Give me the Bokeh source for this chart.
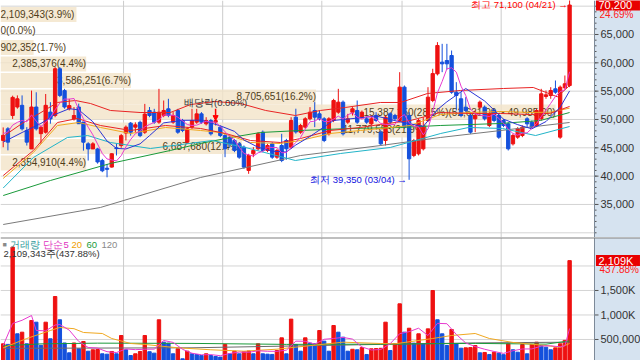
from bokeh.plotting import figure
from bokeh.layouts import column
from bokeh.models import (Range1d, Label, Arrow, NormalHead, Span, BoxAnnotation, ColumnDataSource)
from bokeh.embed import file_html
from bokeh.resources import INLINE
from bokeh.core.properties import value

# ---------------- data ----------------
opens = [46300, 48350, 50700, 52200, 52500, 48050, 44800, 52200, 47500, 47750,
         51300, 50700, 58950, 55100, 51900, 50100, 52200, 49550, 45700, 44800,
         44800, 42750, 41400, 41600, 45000, 45400, 47600, 49350, 48650, 49500,
         47750, 51590, 51290, 49530, 50700, 51880, 49530, 51590, 49820, 45990,
         48650, 49530, 50990, 49230, 49820, 49530, 48650, 47170, 46880, 46290,
         45700, 45110, 41000, 43940, 44820, 47760, 44530, 45700, 43350, 45410,
         46290, 45110, 50400, 47760, 48650, 50120, 51590, 51000, 50120, 47470,
         49820, 51290, 53060, 49530, 51290, 51590, 50410, 50120, 49230, 50700,
         47760, 46290, 51000, 50700, 49820, 55710, 50700, 43650, 43940, 44820,
         49820, 53350, 58060, 60120, 60410, 61290, 54820, 53650, 52170, 50700,
         50120, 52170, 52170, 48940, 51590, 50700, 49820, 49230, 45700, 46880,
         47170, 50120, 49530, 48940, 50120, 54060, 54230, 55410, 46880, 55590,
         56000]
highs = [48600, 48650, 54200, 54250, 54250, 48650, 55100, 54800, 48950, 54500,
         53050, 59250, 59250, 55400, 53650, 52200, 52800, 49550, 45990, 46000,
         45000, 43050, 42150, 44050, 45700, 47450, 48950, 49550, 49500, 49800,
         52750, 52200, 51880, 55410, 53350, 53650, 51300, 51880, 50100, 48650,
         51880, 51880, 51300, 50400, 50100, 50100, 48940, 47470, 47170, 46580,
         45990, 45410, 43940, 45110, 47760, 48060, 45700, 45990, 44820, 47470,
         46580, 50400, 51900, 49230, 50400, 52180, 53060, 51590, 50410, 50410,
         53650, 55410, 53350, 51000, 52180, 53350, 51590, 50410, 50700, 51290,
         48060, 50700, 51290, 51000, 58350, 56000, 51290, 46580, 50120, 50410,
         55700, 58950, 63650, 63350, 63350, 62170, 56590, 54820, 53940, 51000,
         51590, 53350, 52470, 51290, 51880, 51000, 50120, 49530, 47470, 48650,
         48940, 50410, 49820, 51880, 55410, 55120, 55700, 56880, 56000, 57760,
         71100]
lows = [45100, 44550, 50100, 51900, 48050, 45400, 44800, 48050, 45700, 47500,
        49250, 50400, 53950, 51900, 51600, 49800, 49250, 44500, 42750, 44800,
        42200, 40700, 39800, 41500, 43650, 45000, 46300, 47150, 47750, 46880,
        47450, 50400, 49230, 49230, 50400, 50400, 49230, 47470, 47760, 45700,
        48350, 49230, 49230, 48940, 47170, 48940, 46880, 43350, 45110, 44230,
        43050, 41290, 40410, 43350, 44530, 44230, 44230, 43050, 43050, 42470,
        42900, 44820, 47500, 47470, 48350, 49820, 48650, 49820, 46000, 47170,
        49530, 51000, 47170, 49230, 50700, 49230, 50120, 49230, 48940, 49530,
        45410, 45410, 49230, 49820, 49530, 48350, 39350, 43350, 43650, 44530,
        49530, 53060, 57770, 58350, 58800, 54530, 51590, 50400, 51290, 47470,
        47760, 51880, 49820, 48650, 49530, 46580, 48650, 44530, 45410, 46580,
        46880, 48650, 48350, 48650, 49820, 53650, 53650, 54530, 46580, 55410,
        55700]
closes = [47200, 46000, 53900, 53650, 48350, 46000, 52200, 48350, 48650, 52500,
          50100, 58950, 54250, 52200, 52450, 50700, 49250, 45990, 44800, 45700,
          42500, 40950, 41200, 43950, 44850, 47150, 48650, 47750, 49050, 47150,
          50950, 50700, 49530, 51290, 51590, 50700, 50700, 47760, 48060, 48350,
          49820, 50990, 49530, 49820, 47470, 49820, 47170, 44820, 45700, 44530,
          43350, 41590, 43640, 44530, 47470, 44530, 45410, 43350, 44530, 42760,
          44820, 49820, 47800, 48940, 50120, 51290, 50410, 50120, 46290, 50120,
          53350, 53060, 47470, 50120, 51880, 49530, 51290, 49530, 50120, 49820,
          45700, 50410, 49530, 50120, 55710, 48650, 43060, 46290, 49820, 48650,
          53940, 58100, 63060, 59820, 59820, 54820, 54230, 50700, 51590, 47760,
          50700, 53060, 50120, 51000, 49820, 46880, 48940, 44820, 47170, 48350,
          48650, 49230, 48650, 51590, 54530, 54350, 55120, 54820, 55700, 56300,
          70200]
volumes = [412000, 400000, 2385376, 616000, 649000, 412000, 887000, 853000, 380000, 853000,
           514000, 1377000, 902000, 429000, 228000, 429000, 310000, 459000, 261000, 290000,
           295000, 208000, 200000, 255000, 208000, 581000, 290000, 173000, 208000, 255000,
           581000, 250000, 221000, 902000, 445000, 425000, 208000, 310000, 106000, 261000,
           208000, 194000, 173000, 208000, 173000, 153000, 140000, 398000, 208000, 261000,
           208000, 250000, 265000, 208000, 412000, 208000, 200000, 195000, 275000, 534000,
           208000, 915000, 398000, 261000, 534000, 425000, 412000, 683000, 466000, 261000,
           785000, 649000, 547000, 261000, 300000, 290000, 335000, 194000, 310000, 315000,
           320000, 853000, 275000, 412000, 1228000, 649000, 730000, 425000, 616000, 412000,
           717000, 1499000, 902352, 616000, 377000, 704000, 412000, 322000, 330000, 335000,
           377000, 228000, 235000, 194000, 240000, 220000, 190000, 412000, 290000, 240000,
           398000, 208000, 398000, 445000, 377000, 343000, 290000, 330000, 412000, 481717,
           2109343]

# price moving averages
ma5 = [47500, 47800, 49000, 49500, 49820, 49580, 50820, 49710, 48710, 49540,
       50360, 51710, 52890, 53600, 53590, 53710, 51770, 50120, 48640, 47290,
       45650, 43990, 43030, 42860, 42690, 43620, 45160, 46470, 47490, 47950,
       48710, 49120, 49480, 49920, 50810, 50760, 50760, 50410, 49760, 49110,
       48940, 49000, 49350, 49700, 49530, 49530, 48760, 47820, 47000, 46410,
       45110, 44000, 43760, 43530, 44120, 44350, 45120, 45060, 45060, 44120,
       44170, 45060, 45950, 46830, 48300, 49590, 49710, 50180, 49650, 49650,
       50060, 50590, 50060, 50820, 51180, 50410, 50060, 50470, 50470, 50060,
       49290, 49120, 49120, 49120, 50290, 50880, 49410, 48770, 48710, 47290,
       48350, 51370, 54710, 56710, 58950, 59120, 58350, 55880, 54230, 51820,
       51000, 50760, 50650, 50530, 50940, 50180, 49350, 48290, 47530, 47230,
       47590, 47640, 48410, 49290, 50530, 51670, 52850, 54080, 54900, 55250,
       58420]
ma10_x = [0, 4, 8, 11, 14, 16, 19, 22, 24, 26, 29, 31, 34, 38, 42, 46, 49, 51, 54, 57,
          60, 62, 65, 70, 75, 79, 83, 86, 89, 92, 94, 98, 102, 106, 109, 112, 115, 118, 120]
ma10_y = [46000, 47700, 49300, 50900, 51900, 51700, 49600, 46200, 44900, 44800, 45700,
          47150, 49400, 49850, 49880, 48880, 47900, 46380, 45100, 44410, 44260, 45500,
          47000, 49830, 50240, 50620, 49790, 49260, 48790, 51740, 53120, 55470, 53260,
          50060, 49090, 48350, 49630, 52160, 55040]
ma20_x = [0, 6.4, 11.5, 15.7, 20.6, 27, 34.4, 41.8, 47.1, 52.4, 58.7, 63, 69.3, 75.7,
          79.9, 86.3, 92.6, 99, 105.4, 111.7, 116, 120]
ma20_y = [40100, 44530, 49470, 50170, 48940, 48060, 48940, 48410, 47530, 46290, 45940,
          46640, 48060, 48590, 49120, 49820, 51230, 51060, 51060, 50880, 51100, 52300]
mao_x = [0, 6.4, 11.5, 16, 20.6, 27, 34.4, 41.8, 46, 52.4, 58.7, 63, 69.3, 75.7, 79.9,
         86.3, 92.6, 99, 105.4, 111.7, 116, 120]
mao_y = [39590, 44180, 48940, 49470, 48590, 47530, 48590, 48060, 47700, 45940, 45760,
         46290, 47530, 48060, 48410, 48940, 50880, 51230, 51410, 51230, 51300, 52000]
upper_x = [0, 4, 8, 11.5, 15.3, 18.5, 22.7, 29, 35.4, 39.7, 44.9, 50.3, 55.6, 61.9, 67.2,
           72.5, 79.9, 84.2, 89.9, 96.9, 106, 112.3, 117.4, 120]
upper_y = [47000, 49300, 51230, 53000, 53350, 52820, 51590, 51230, 51230, 52640, 53170,
           52820, 51590, 50700, 51590, 52120, 53000, 53000, 54590, 55120, 55470, 55650,
           54000, 56000]
cyan_x = [0, 6.4, 13.6, 17.9, 22.7, 31.2, 44.3, 51.3, 61.9, 71.5, 82, 92.7, 98.6, 105.8,
          112.8, 120]
cyan_y = [37900, 43290, 46820, 47170, 45940, 44880, 46290, 45060, 42760, 44000, 45060,
          47530, 48590, 48410, 47170, 48760]
green_x = [0, 10, 22.7, 35.4, 41.8, 48.2, 54.5, 63, 73.6, 84.2, 92.6, 105.4, 113.8, 120]
green_y = [36580, 39230, 42230, 44530, 45760, 46820, 47700, 48060, 48410, 48590, 48940,
           49290, 49820, 51230]
gray_x = [0, 20.6, 41.8, 63, 80, 92.6, 105.4, 120]
gray_y = [31465, 34470, 39760, 43640, 45410, 46820, 48050, 49470]

# volume moving averages, in thousands
vma5_x = [0, 2, 4, 6, 7, 9, 11, 12, 14, 16, 18, 20, 22, 24, 26, 28, 30, 32, 34, 36, 38,
          40, 42, 44, 46, 48, 50, 52, 54, 56, 58, 60, 62, 64, 66, 68, 70, 72, 74, 76, 78,
          80, 82, 84, 86, 88, 90, 92, 94, 96, 98, 100, 102, 104, 106, 108, 110, 112, 114,
          116, 118, 119, 120]
vma5_y = [377, 826, 892, 989, 683, 677, 795, 805, 690, 460, 337, 323, 251, 233, 307, 292,
          301, 303, 480, 440, 299, 219, 188, 191, 169, 214, 243, 238, 269, 259, 258, 282,
          466, 463, 406, 504, 521, 542, 508, 347, 286, 295, 415, 618, 659, 730, 580, 829,
          822, 602, 429, 355, 301, 255, 216, 270, 306, 307, 365, 371, 350, 371, 724]
vma20_x = [0, 5, 10, 12, 15, 17, 21, 23, 27, 30, 37, 44, 51, 58, 62, 72, 80, 83, 91, 95,
           100, 103, 108, 115, 118, 120]
vma20_y = [330, 520, 683, 745, 720, 643, 622, 520, 418, 398, 330, 290, 261, 302, 343, 445,
           418, 412, 520, 581, 622, 520, 439, 377, 337, 418]
vma60_x = [0, 8, 20, 40, 60, 80, 100, 115, 120]
vma60_y = [370, 410, 425, 420, 400, 405, 420, 405, 470]
vma120_x = [0, 40, 80, 100, 120]
vma120_y = [320, 330, 400, 430, 445]

# volume by price bands
profile_vol = [2109343, 0, 902352, 2385376, 3586251, 8705651, 15387150, 11779553, 6687680, 2354910]
profile_pct = [3.9, 0.0, 1.7, 4.4, 6.7, 16.2, 28.5, 21.9, 12.4, 4.4]
profile_hi = [69853, 66941, 64028, 61116, 58204, 55292, 52631, 49467, 46555, 43643]
profile_lo = [67207, 64295, 61382, 58470, 55558, 52646, 49985, 46821, 43909, 40997]

month_breaks = [25.5, 46.5, 67.5, 84.5, 105.5]
price_ticks = [35000, 40000, 45000, 50000, 55000, 60000, 65000]
price_minor = list(range(30000, 71000, 1000))
price_grid = [30000, 35000, 40000, 45000, 50000, 55000, 60000, 65000, 70000]
vol_ticks = [500000, 1000000, 1500000]
vol_tick_labels = ["500,000", "1,000K", "1,500K"]
vol_grid = [500000, 1000000, 1500000, 2000000]
high_date = "04/21"
low_date = "03/04"
exdiv_bar = 45

# ---------------- styling / layout constants ----------------
RED = "#ee1111"
BLUE = "#1450dc"
AXIS_BG = "#d6e3f0"
BEIGE = "#f3e3c8"
FONT = "Liberation Sans"
PX = 4.72                 # pixels per bar slot
X0 = -0.572
XR = X0 + 640 / PX        # frame covers whole width (axis strip drawn by hand)
AX = X0 + 594 / PX        # position of the value axis line
PRICE_LO, PRICE_HI = 29170, 71000
VOL_LO, VOL_TOP = 71000, 2581000

N = len(closes)
idx = list(range(N))

ccolors = [RED if c >= o else BLUE for o, c in zip(opens, closes)]
src = ColumnDataSource(dict(
    x=idx, h=highs, l=lows,
    top=[max(o, c) for o, c in zip(opens, closes)],
    bot=[min(o, c) for o, c in zip(opens, closes)],
    color=ccolors))


def make_fig(h, y0, y1, xr=None):
    f = figure(width=640, height=h, x_range=xr if xr is not None else Range1d(X0, XR),
               y_range=Range1d(y0, y1), output_backend="svg", toolbar_location=None,
               x_axis_location=None, y_axis_location=None, title=None,
               min_border_left=0, min_border_right=0, min_border_top=0, min_border_bottom=0)
    f.background_fill_color = "white"
    f.border_fill_color = "white"
    f.outline_line_color = None
    f.xgrid.visible = False
    f.ygrid.visible = False
    return f


def value_axis(f, grid, ticks, tick_labels, minor=None):
    for g in grid:
        f.add_layout(Span(location=g, dimension="width", line_color="#d4d4d4", line_width=1,
                          level="underlay"))
    for m in month_breaks:
        f.add_layout(Span(location=m, dimension="height", line_color="#cccccc", line_width=1,
                          level="underlay"))
    f.add_layout(BoxAnnotation(left=AX, fill_color=AXIS_BG, fill_alpha=1.0, line_color=None,
                               level="underlay"))
    f.add_layout(Span(location=AX, dimension="height", line_color="#7d8a99", line_width=1))
    if minor:
        f.segment(x0=[AX] * len(minor), x1=[AX + 2 / PX] * len(minor), y0=minor, y1=minor,
                  line_color="#555555", line_width=1)
    f.segment(x0=[AX] * len(ticks), x1=[AX + 4 / PX] * len(ticks), y0=ticks, y1=ticks,
              line_color="#555555", line_width=1)
    f.text(x=[AX] * len(ticks), y=ticks, text=tick_labels, x_offset=6,
           text_baseline="middle", text_font=value(FONT), text_font_size="11px",
           text_color="#333333")


def value_badge(f, yv, main, sub):
    f.rect(x=[(AX + XR) / 2 + 0.1], y=[yv], width=[44], height=[11], width_units="screen",
           height_units="screen", fill_color="#e80000", line_color=None)
    f.text(x=[AX], y=[yv], text=[main], x_offset=4, text_baseline="middle",
           text_font=value(FONT), text_font_size="11px", text_color="white")
    f.text(x=[AX], y=[yv], text=[sub], x_offset=5, y_offset=9, text_baseline="middle",
           text_font=value(FONT), text_font_size="10px", text_color="#ff2020")


# ---------------- price panel ----------------
p = make_fig(237, PRICE_LO, PRICE_HI)
value_axis(p, price_grid, price_ticks, [f"{t:,}" for t in price_ticks], price_minor)

# volume-by-price bands
p.extra_x_ranges = {"profile": Range1d(0, 30.5 * 640 / 594)}
p.quad(left=0, right=profile_pct, top=profile_hi, bottom=profile_lo, x_range_name="profile",
       fill_color=BEIGE, fill_alpha=0.8, line_color=None)
labels = []
for i, (v, pc) in enumerate(zip(profile_vol, profile_pct)):
    t = f"{v:,}({pc:.1f}%)"
    if pc == max(profile_pct):
        t += f"({profile_hi[i]:,.2f} ~ {profile_lo[i]:,.2f})"
    labels.append(t)
centers = [(a + b) / 2 for a, b in zip(profile_hi, profile_lo)]
px_per_unit = 594 / 30.5
r_x, r_y, r_t, l_y, l_t = [], [], [], [], []
for t, pc, cy in zip(labels, profile_pct, centers):
    if pc * px_per_unit >= len(t) * 5.4:
        r_x.append(pc); r_y.append(cy); r_t.append(t)
    else:
        l_y.append(cy); l_t.append(t)
p.text(x=r_x, y=r_y, text=r_t, x_range_name="profile", text_align="right",
       text_baseline="middle", text_font=value(FONT), text_font_size="10px",
       text_color="#4f3d1a")
p.text(x=[0] * len(l_y), y=l_y, text=l_t, x_range_name="profile", text_align="left",
       text_baseline="middle", text_font=value(FONT), text_font_size="10px",
       text_color="#4f3d1a")

# candles
p.segment(x0="x", y0="h", x1="x", y1="l", color="color", line_width=1, source=src)
p.vbar(x="x", width=0.7, top="top", bottom="bot", fill_color="color", line_color="color",
       source=src)

# moving averages
p.line(gray_x, gray_y, color="#7a7a7a", line_width=1)
p.line(green_x, green_y, color="#1a9a3a", line_width=1)
p.line(cyan_x, cyan_y, color="#22b4c8", line_width=1)
p.line(upper_x, upper_y, color="#e82424", line_width=1)
p.line(mao_x, mao_y, color="#f0a820", line_width=1)
p.line(ma20_x, ma20_y, color="#e82424", line_width=1)
p.line(ma10_x, ma10_y, color="#2b35d6", line_width=1)
p.line(idx, ma5, color="#e83ad0", line_width=1)

# annotations
hi_i = highs.index(max(highs))
lo_i = lows.index(min(lows))
p.add_layout(Label(x=hi_i - 0.4, y=highs[hi_i], y_offset=-5,
                   text=f"최고 {highs[hi_i]:,} ({high_date}) →",
                   text_align="right", text_baseline="middle", text_color="#ff0000",
                   text_font=FONT, text_font_size="9.5px"))
p.add_layout(Label(x=lo_i - 0.5, y=lows[lo_i], text=f"최저 {lows[lo_i]:,} ({low_date}) →",
                   text_align="right", text_baseline="middle", text_color="#1010e0",
                   text_font=FONT, text_font_size="9.5px"))
p.add_layout(Label(x=exdiv_bar, y=highs[exdiv_bar], y_offset=16, text="배당락(0.00%)",
                   text_align="center", text_baseline="middle", text_color="#333333",
                   text_font=FONT, text_font_size="9.5px"))
p.add_layout(Arrow(end=NormalHead(size=5, fill_color="#ff0000", line_color="#ff0000"),
                   x_start=exdiv_bar, y_start=highs[exdiv_bar] + 1800, x_end=exdiv_bar,
                   y_end=highs[exdiv_bar] - 300, line_color="#ff0000", line_width=1.5))
chg = (closes[-1] / closes[-2] - 1) * 100
value_badge(p, closes[-1], f"{closes[-1]:,}", f"{chg:.2f}%")

# ---------------- volume panel ----------------
q = make_fig(123, VOL_LO, VOL_TOP, xr=p.x_range)
value_axis(q, vol_grid, vol_ticks, vol_tick_labels)
q.add_layout(Span(location=VOL_TOP, dimension="width", line_color="#808080", line_width=2))

vcolors = [RED if (i == 0 or volumes[i] >= volumes[i - 1]) else BLUE for i in range(N)]
q.vbar(x=idx, width=0.72, top=volumes, bottom=0, fill_color=vcolors, line_color=vcolors)
q.line(vma120_x, [v * 1000 for v in vma120_y], color="#6a6a6a", line_width=1)
q.line(vma60_x, [v * 1000 for v in vma60_y], color="#1a9a3a", line_width=1)
q.line(vma20_x, [v * 1000 for v in vma20_y], color="#f0a820", line_width=1)
q.line(vma5_x, [v * 1000 for v in vma5_y], color="#e83ad0", line_width=1)

legend_items = [("■", 2, "#8a8a8a", "7px"), ("거래량", 9, "#2f9b9b", "9.5px"),
                ("단순", 42, "#e030c0", "9.5px"), ("5", 63, "#e030c0", "9.5px"),
                ("20", 71, "#f0a000", "9.5px"), ("60", 86, "#1a9a3a", "9.5px"),
                ("120", 101, "#8a8a8a", "9.5px")]
for t, xx, col, fs in legend_items:
    q.add_layout(Label(x=xx, x_units="screen", y=VOL_TOP, y_offset=-7, text=t,
                       text_baseline="middle", text_color=col, text_font=FONT,
                       text_font_size=fs))
vpct = volumes[-1] / volumes[-2] * 100
q.add_layout(Label(x=3, x_units="screen", y=VOL_TOP, y_offset=-16,
                   text=f"{volumes[-1]:,}주({vpct:.2f}%)", text_baseline="middle",
                   text_color="#333333", text_font=FONT, text_font_size="9.5px"))
value_badge(q, volumes[-1], f"{volumes[-1] / 1000:,.0f}K", f"{vpct:.2f}%")

layout = column(p, q, spacing=0)
open("out.html", "w").write(file_html(layout, INLINE))
